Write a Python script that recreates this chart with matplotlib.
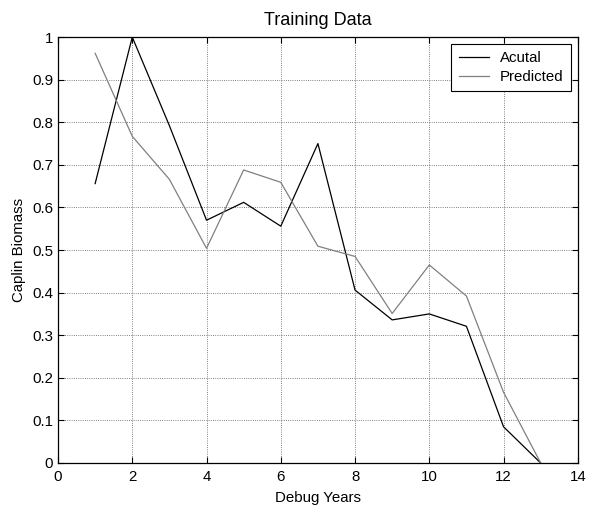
import matplotlib
matplotlib.use('Agg')
import matplotlib.pyplot as plt

years = list(range(1, 14))
actual = [0.656, 1.0, 0.792, 0.570, 0.612, 0.556, 0.750, 0.406, 0.336, 0.350, 0.321, 0.085, 0.0]
predicted = [0.962, 0.767, 0.666, 0.504, 0.688, 0.659, 0.509, 0.485, 0.351, 0.465, 0.392, 0.166, 0.0]

plt.rcParams['font.family'] = ['Liberation Sans', 'DejaVu Sans']
plt.rcParams['font.size'] = 10.8

fig = plt.figure(figsize=(5.89, 5.08), dpi=100)
ax = fig.add_axes([0.0985, 0.0886, 0.8825, 0.8384])

ax.plot(years, actual, color='black', linewidth=0.9, label='Acutal')
ax.plot(years, predicted, color='#808080', linewidth=0.9, label='Predicted')

ax.set_xlim(0, 14)
ax.set_ylim(0, 1)
ax.set_xticks(range(0, 15, 2))
ax.set_yticks([i / 10 for i in range(11)])
ax.set_yticklabels(['0', '0.1', '0.2', '0.3', '0.4', '0.5', '0.6', '0.7', '0.8', '0.9', '1'])
ax.tick_params(direction='in', top=True, right=True, length=4, width=0.8)
ax.tick_params(axis='x', pad=5)
ax.tick_params(axis='y', pad=3.6)
ax.grid(True, linestyle=':', color='#555555', linewidth=0.6)
for s in ax.spines.values():
    s.set_linewidth(0.9)

ax.set_title('Training Data', pad=9)
ax.set_xlabel('Debug Years', labelpad=5)
ax.set_ylabel('Caplin Biomass', labelpad=4)

leg = ax.legend(loc='upper right', fancybox=False, edgecolor='black', framealpha=1,
                borderaxespad=0.45, handlelength=2.0, handletextpad=0.75,
                borderpad=0.5, labelspacing=0.3)
leg.get_frame().set_linewidth(0.8)

fig.savefig('out.png', dpi=100)
